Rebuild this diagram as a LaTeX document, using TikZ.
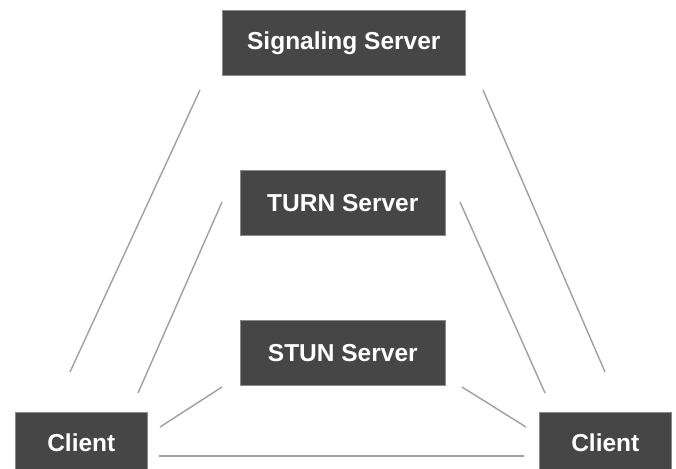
\documentclass[tikz,border=0pt]{standalone}
\usepackage{fontspec}
\setmainfont{Liberation Sans}
\definecolor{boxfill}{HTML}{464646}
\definecolor{boxline}{HTML}{8A8A8A}
\definecolor{linkgray}{HTML}{A0A0A0}
\tikzset{
  server/.style={draw=boxline, line width=0.6pt, fill=boxfill, text=white, font=\fontsize{24.5}{28}\selectfont\bfseries, inner sep=0pt, anchor=north west},
  link/.style={draw=linkgray, line width=1.4pt}
}
\begin{document}
\begin{tikzpicture}[x=1pt,y=-1pt]
\useasboundingbox (0,0) rectangle (676,468);
\clip (0,0) rectangle (676,468);
\fill[white] (0,0) rectangle (676,468);
\node[server, minimum width=243pt, minimum height=65pt] (sig) at (222,10) {Signaling Server};
\node[server, minimum width=205pt, minimum height=65pt] (turn) at (240,170) {TURN Server};
\node[server, minimum width=205pt, minimum height=65pt] (stun) at (240,320) {STUN Server};
\node[server, minimum width=132pt, minimum height=60pt] (cl) at (15,412) {Client};
\node[server, minimum width=132pt, minimum height=60pt] (cr) at (539,412) {Client};
% connector ends
\coordinate (s1a) at (200,90);  \coordinate (s1b) at (70,372);
\coordinate (s2a) at (483,90);  \coordinate (s2b) at (605,372);
\coordinate (t1a) at (222,202); \coordinate (t1b) at (138,393);
\coordinate (t2a) at (460,202); \coordinate (t2b) at (545,393);
\coordinate (u1a) at (222,387); \coordinate (u1b) at (160,427);
\coordinate (u2a) at (462,387); \coordinate (u2b) at (526,427);
\coordinate (c1) at (159,456);  \coordinate (c2) at (524,456);
\draw[link] (s1a) -- (s1b);
\draw[link] (s2a) -- (s2b);
\draw[link] (t1a) -- (t1b);
\draw[link] (t2a) -- (t2b);
\draw[link] (u1a) -- (u1b);
\draw[link] (u2a) -- (u2b);
\draw[link] (c1) -- (c2);
\end{tikzpicture}
\end{document}
